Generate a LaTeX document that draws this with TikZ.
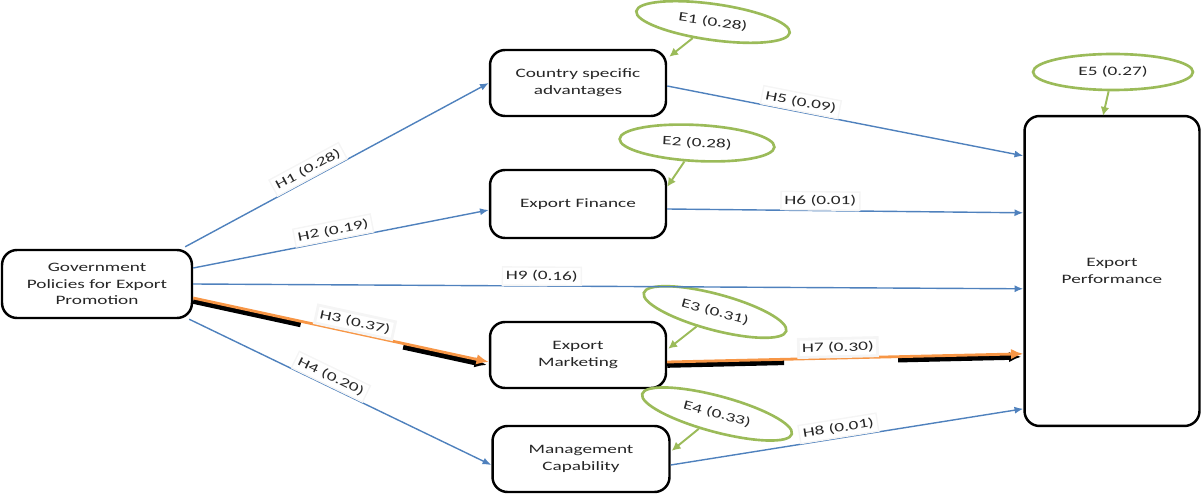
\documentclass[tikz,border=0pt]{standalone}
\usepackage{fontspec}
\setmainfont{Carlito}[FakeStretch=1.5]
\usetikzlibrary{shapes,arrows.meta,calc}
\definecolor{myblue}{RGB}{79,129,189}
\definecolor{mygreen}{RGB}{155,187,89}
\definecolor{myorange}{RGB}{247,150,70}

\begin{document}
\begin{tikzpicture}[x=0.02cm,y=-0.02cm,
    font=\fontsize{7.3}{9.5}\selectfont,
    box/.style={draw,line width=1.4pt,rounded corners=0.3cm,align=center,text=black!85,
        minimum width=3.52cm,minimum height=1.32cm,inner sep=0pt},
    err/.style={ellipse,draw=mygreen,line width=1.5pt,minimum width=3.1cm,
        minimum height=0.72cm,inner sep=0pt,text=black!85},
    errarrow/.style={-{Latex[length=5pt,width=5pt]},mygreen,line width=1.1pt},
    hyp/.style={-{Latex[length=5pt,width=4pt]},myblue,line width=0.8pt},
    hypmain/.style={-{Latex[length=7pt,width=6pt]},myorange,line width=1.6pt},
    shadowline/.style={-{Latex[length=7pt,width=6pt]},black,line width=3.2pt},
    hlabel/.style={sloped,above,draw=black!4,inner sep=2pt,text=black!85}]
    \useasboundingbox (0,0) rectangle (1203,496);

    % constructs
    \node[box,minimum width=3.8cm,minimum height=1.36cm] (gov) at (97,284)
        {Government\\Policies for Export\\Promotion};
    \node[box] (csa) at (578,83) {Country specific\\advantages};
    \node[box,minimum height=1.36cm] (fin) at (578,204) {Export Finance};
    \node[box] (mkt) at (578,355) {Export\\Marketing};
    \node[box,minimum width=3.54cm] (mgt) at (581,459) {Management\\Capability};
    \node[box,minimum width=3.5cm,minimum height=6.2cm] (perf) at (1112,271)
        {Export\\Performance};

    % error terms
    \node[err,rotate=-8] (e1) at (713,22) {E1 (0.28)};
    \node[err,rotate=-3] (e2) at (697,143) {E2 (0.28)};
    \node[err,rotate=-15,minimum width=2.95cm] (e3) at (715,312) {E3 (0.31)};
    \node[err,rotate=-15] (e4) at (717,414) {E4 (0.33)};
    \node[err,minimum width=3.2cm] (e5) at (1113,72) {E5 (0.27)};

    \draw[errarrow] (e1) -- ($(csa.north east)+(2,8)$);
    \draw[errarrow] (e2) -- ($(fin.north east)+(0,18)$);
    \draw[errarrow] (e3) -- ($(mkt.north east)+(1,28)$);
    \draw[errarrow] (e4) -- ($(mgt.north east)+(1,26)$);
    \draw[errarrow] (e5) -- ($(perf.north)+(-9,1)$);

    % paths from government policies
    \draw[hyp] ($(gov.north east)+(-8,-2)$) -- (csa.west)
        node[hlabel,pos=0.42] {H1 (0.28)};
    \draw[hyp] ($(gov.east)+(0,-16)$) -- ($(fin.west)+(0,6)$)
        node[hlabel,pos=0.48] {H2 (0.19)};
    \draw[hyp] (gov.east) -- ($(perf.north west)+(0,174)$)
        node[hlabel,pos=0.42] {H9 (0.16)};
    \draw[shadowline,dash pattern=on 2.2cm off 2.1cm on 3cm]
        ($(gov.east)+(0,17)$) -- ($(mkt.west)+(-2,10)$);
    \draw[hypmain] ($(gov.east)+(0,14)$) -- ($(mkt.west)+(0,7)$)
        node[hlabel,pos=0.54] {H3 (0.37)};
    \draw[hyp] ($(gov.south east)+(-4,0)$) -- ($(mgt.west)+(0,6)$)
        node[hlabel,pos=0.455] {H4 (0.20)};

    % paths to export performance
    \draw[hyp] ($(csa.east)+(0,3)$) -- ($(perf.north west)+(0,41)$)
        node[hlabel,pos=0.37] {H5 (0.09)};
    \draw[hyp] ($(fin.east)+(0,5)$) -- ($(perf.north west)+(0,98)$)
        node[hlabel,pos=0.43] {H6 (0.01)};
    \draw[shadowline,dash pattern=on 2.34cm off 2.28cm on 3cm]
        ($(mkt.east)+(0,10)$) -- ($(perf.north west)+(-2,242)$);
    \draw[hypmain] ($(mkt.east)+(0,7)$) -- ($(perf.north west)+(0,239)$)
        node[hlabel,pos=0.48] {H7 (0.30)};
    \draw[hyp] ($(mgt.east)+(0,6)$) -- ($(perf.north west)+(0,294)$)
        node[hlabel,pos=0.48] {H8 (0.01)};
\end{tikzpicture}
\end{document}
